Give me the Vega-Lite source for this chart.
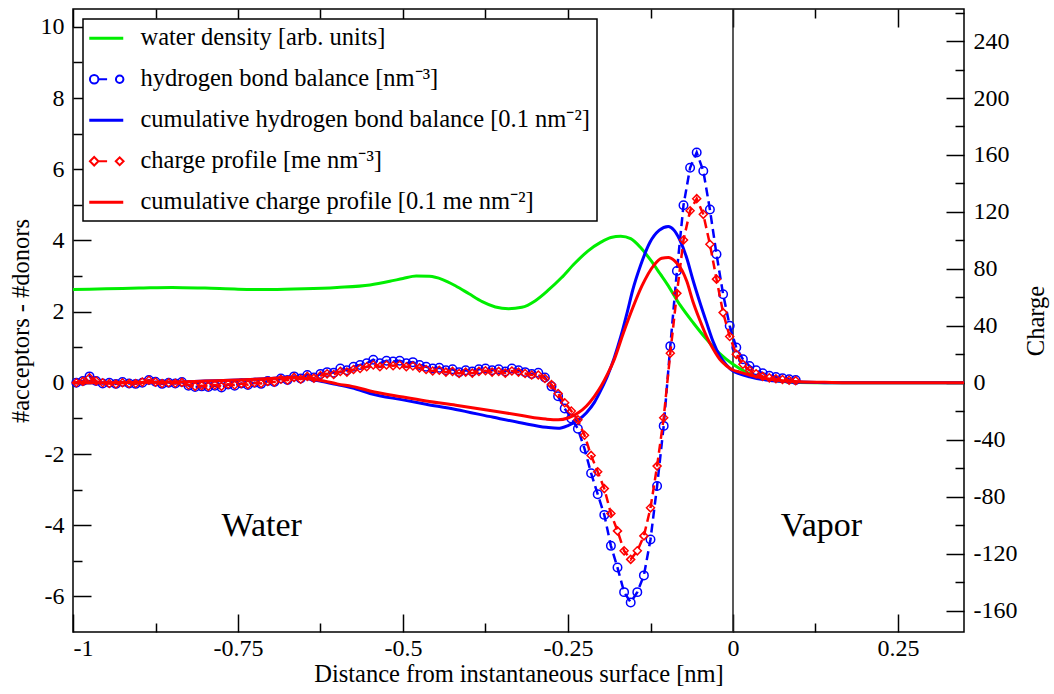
{
  "$schema": "https://vega.github.io/schema/vega-lite/v6.json",
  "width": 891,
  "height": 623,
  "autosize": {"type": "none"},
  "padding": {"left": 73, "top": 9, "right": 90, "bottom": 62},
  "background": "white",
  "config": {
    "view": {"stroke": "black", "strokeWidth": 1.5},
    "axis": {
      "labelFont": "Liberation Serif", "titleFont": "Liberation Serif",
      "labelFontSize": 24, "titleFontSize": 24.5, "labelColor": "black", "titleColor": "black",
      "titleFontWeight": "normal", "tickColor": "black", "tickWidth": 1.5, "domain": false, "grid": false
    }
  },
  "datasets": {
    "density": [
      {"x": -1, "y": 2.62}, {"x": -0.95, "y": 2.64}, {"x": -0.9, "y": 2.66}, {"x": -0.85, "y": 2.68},
      {"x": -0.8, "y": 2.66}, {"x": -0.75, "y": 2.63}, {"x": -0.7, "y": 2.62}, {"x": -0.65, "y": 2.64},
      {"x": -0.6, "y": 2.68}, {"x": -0.55, "y": 2.75}, {"x": -0.52, "y": 2.85}, {"x": -0.5, "y": 2.93},
      {"x": -0.48, "y": 3.0}, {"x": -0.46, "y": 2.99}, {"x": -0.44, "y": 2.9}, {"x": -0.42, "y": 2.72},
      {"x": -0.4, "y": 2.5}, {"x": -0.38, "y": 2.28}, {"x": -0.36, "y": 2.13}, {"x": -0.34, "y": 2.08},
      {"x": -0.32, "y": 2.12}, {"x": -0.3, "y": 2.3}, {"x": -0.28, "y": 2.6}, {"x": -0.26, "y": 2.95},
      {"x": -0.24, "y": 3.35}, {"x": -0.22, "y": 3.7}, {"x": -0.2, "y": 3.95}, {"x": -0.185, "y": 4.08},
      {"x": -0.17, "y": 4.12}, {"x": -0.155, "y": 4.05}, {"x": -0.14, "y": 3.8}, {"x": -0.125, "y": 3.45},
      {"x": -0.11, "y": 3.05}, {"x": -0.1, "y": 2.78}, {"x": -0.08, "y": 2.18}, {"x": -0.06, "y": 1.68},
      {"x": -0.04, "y": 1.22}, {"x": -0.02, "y": 0.82}, {"x": 0, "y": 0.52}, {"x": 0.02, "y": 0.3},
      {"x": 0.04, "y": 0.15}, {"x": 0.06, "y": 0.07}, {"x": 0.08, "y": 0.03}, {"x": 0.1, "y": 0.01},
      {"x": 0.15, "y": 0}, {"x": 0.35, "y": 0}
    ],
    "hb": [
      {"x": -0.995, "y": 0.0}, {"x": -0.985, "y": 0.05}, {"x": -0.975, "y": 0.18}, {"x": -0.965, "y": 0.05},
      {"x": -0.955, "y": -0.02}, {"x": -0.945, "y": 0.0}, {"x": -0.935, "y": -0.03}, {"x": -0.925, "y": 0.02},
      {"x": -0.915, "y": -0.02}, {"x": -0.905, "y": -0.03}, {"x": -0.895, "y": 0.0}, {"x": -0.885, "y": 0.08},
      {"x": -0.875, "y": 0.03}, {"x": -0.865, "y": -0.03}, {"x": -0.855, "y": 0.0}, {"x": -0.845, "y": -0.02},
      {"x": -0.835, "y": 0.02}, {"x": -0.825, "y": -0.08}, {"x": -0.815, "y": -0.12}, {"x": -0.805, "y": -0.1},
      {"x": -0.795, "y": -0.12}, {"x": -0.785, "y": -0.08}, {"x": -0.775, "y": -0.13}, {"x": -0.765, "y": -0.05},
      {"x": -0.755, "y": -0.08}, {"x": -0.745, "y": -0.02}, {"x": -0.735, "y": -0.06}, {"x": -0.725, "y": 0.0},
      {"x": -0.715, "y": -0.03}, {"x": -0.705, "y": 0.05}, {"x": -0.695, "y": 0.02}, {"x": -0.685, "y": 0.12},
      {"x": -0.675, "y": 0.08}, {"x": -0.665, "y": 0.18}, {"x": -0.655, "y": 0.12}, {"x": -0.645, "y": 0.22},
      {"x": -0.635, "y": 0.15}, {"x": -0.625, "y": 0.25}, {"x": -0.615, "y": 0.3}, {"x": -0.605, "y": 0.28},
      {"x": -0.595, "y": 0.4}, {"x": -0.585, "y": 0.35}, {"x": -0.575, "y": 0.45}, {"x": -0.565, "y": 0.5},
      {"x": -0.555, "y": 0.55}, {"x": -0.545, "y": 0.65}, {"x": -0.535, "y": 0.55}, {"x": -0.525, "y": 0.62},
      {"x": -0.515, "y": 0.6}, {"x": -0.505, "y": 0.62}, {"x": -0.495, "y": 0.55}, {"x": -0.485, "y": 0.58},
      {"x": -0.475, "y": 0.5}, {"x": -0.465, "y": 0.45}, {"x": -0.455, "y": 0.4}, {"x": -0.445, "y": 0.42},
      {"x": -0.435, "y": 0.35}, {"x": -0.425, "y": 0.38}, {"x": -0.415, "y": 0.3}, {"x": -0.405, "y": 0.35},
      {"x": -0.395, "y": 0.32}, {"x": -0.385, "y": 0.38}, {"x": -0.375, "y": 0.4}, {"x": -0.365, "y": 0.35},
      {"x": -0.355, "y": 0.38}, {"x": -0.345, "y": 0.32}, {"x": -0.335, "y": 0.4}, {"x": -0.325, "y": 0.35},
      {"x": -0.315, "y": 0.3}, {"x": -0.305, "y": 0.25}, {"x": -0.295, "y": 0.28}, {"x": -0.285, "y": 0.15},
      {"x": -0.275, "y": -0.1}, {"x": -0.265, "y": -0.38}, {"x": -0.255, "y": -0.72}, {"x": -0.245, "y": -1.0},
      {"x": -0.235, "y": -1.29}, {"x": -0.225, "y": -1.85}, {"x": -0.215, "y": -2.54}, {"x": -0.205, "y": -3.13},
      {"x": -0.195, "y": -3.71}, {"x": -0.185, "y": -4.58}, {"x": -0.175, "y": -5.19}, {"x": -0.165, "y": -5.88},
      {"x": -0.155, "y": -6.17}, {"x": -0.145, "y": -5.88}, {"x": -0.135, "y": -5.41}, {"x": -0.125, "y": -4.4},
      {"x": -0.115, "y": -2.9}, {"x": -0.105, "y": -1.21}, {"x": -0.095, "y": 1.03}, {"x": -0.085, "y": 3.14},
      {"x": -0.075, "y": 4.99}, {"x": -0.065, "y": 6.04}, {"x": -0.055, "y": 6.47}, {"x": -0.045, "y": 5.95},
      {"x": -0.035, "y": 4.87}, {"x": -0.025, "y": 3.61}, {"x": -0.015, "y": 2.49}, {"x": -0.005, "y": 1.6},
      {"x": 0.005, "y": 0.99}, {"x": 0.015, "y": 0.66}, {"x": 0.025, "y": 0.47}, {"x": 0.035, "y": 0.35},
      {"x": 0.045, "y": 0.27}, {"x": 0.055, "y": 0.2}, {"x": 0.065, "y": 0.16}, {"x": 0.075, "y": 0.13},
      {"x": 0.085, "y": 0.1}, {"x": 0.095, "y": 0.08}
    ],
    "hbcum": [
      {"x": -1, "y": 0}, {"x": -0.95, "y": 0.0}, {"x": -0.9, "y": 0.01}, {"x": -0.85, "y": 0.02},
      {"x": -0.8, "y": 0.05}, {"x": -0.75, "y": 0.08}, {"x": -0.7, "y": 0.12}, {"x": -0.67, "y": 0.15},
      {"x": -0.65, "y": 0.13}, {"x": -0.62, "y": 0.03}, {"x": -0.6, "y": -0.05}, {"x": -0.57, "y": -0.18},
      {"x": -0.55, "y": -0.3}, {"x": -0.5, "y": -0.48}, {"x": -0.465, "y": -0.6}, {"x": -0.42, "y": -0.75},
      {"x": -0.363, "y": -0.97}, {"x": -0.32, "y": -1.13}, {"x": -0.283, "y": -1.25}, {"x": -0.265, "y": -1.28},
      {"x": -0.25, "y": -1.2}, {"x": -0.235, "y": -1.05}, {"x": -0.222, "y": -0.84}, {"x": -0.21, "y": -0.55},
      {"x": -0.2, "y": -0.2}, {"x": -0.19, "y": 0.2}, {"x": -0.18, "y": 0.7}, {"x": -0.17, "y": 1.3},
      {"x": -0.16, "y": 2.0}, {"x": -0.152, "y": 2.6}, {"x": -0.14, "y": 3.3}, {"x": -0.126, "y": 3.94},
      {"x": -0.112, "y": 4.28}, {"x": -0.098, "y": 4.39}, {"x": -0.09, "y": 4.3}, {"x": -0.081, "y": 4.03},
      {"x": -0.07, "y": 3.5}, {"x": -0.061, "y": 2.91}, {"x": -0.05, "y": 2.25}, {"x": -0.04, "y": 1.69},
      {"x": -0.03, "y": 1.15}, {"x": -0.02, "y": 0.75}, {"x": -0.01, "y": 0.5}, {"x": 0, "y": 0.33},
      {"x": 0.01, "y": 0.25}, {"x": 0.025, "y": 0.17}, {"x": 0.05, "y": 0.08}, {"x": 0.075, "y": 0.04},
      {"x": 0.1, "y": 0.02}, {"x": 0.15, "y": 0}, {"x": 0.35, "y": 0}
    ],
    "charge": [
      {"x": -0.995, "y": 0}, {"x": -0.985, "y": 1.0}, {"x": -0.975, "y": 3.5}, {"x": -0.965, "y": 1.3},
      {"x": -0.955, "y": 0}, {"x": -0.945, "y": -0.5}, {"x": -0.935, "y": -0.8}, {"x": -0.925, "y": 0},
      {"x": -0.915, "y": -0.5}, {"x": -0.905, "y": -0.5}, {"x": -0.895, "y": 0.5}, {"x": -0.885, "y": 1.8},
      {"x": -0.875, "y": 0.5}, {"x": -0.865, "y": -0.5}, {"x": -0.855, "y": 0}, {"x": -0.845, "y": -0.3},
      {"x": -0.835, "y": 0.3}, {"x": -0.825, "y": -1.5}, {"x": -0.815, "y": -2.5}, {"x": -0.805, "y": -2.0},
      {"x": -0.795, "y": -2.5}, {"x": -0.785, "y": -1.5}, {"x": -0.775, "y": -2.5}, {"x": -0.765, "y": -1.0},
      {"x": -0.755, "y": -1.5}, {"x": -0.745, "y": -0.5}, {"x": -0.735, "y": -1.3}, {"x": -0.725, "y": 0},
      {"x": -0.715, "y": -0.5}, {"x": -0.705, "y": 1.0}, {"x": -0.695, "y": 0.5}, {"x": -0.685, "y": 2.5},
      {"x": -0.675, "y": 1.8}, {"x": -0.665, "y": 3.8}, {"x": -0.655, "y": 2.5}, {"x": -0.645, "y": 4.5},
      {"x": -0.635, "y": 3.3}, {"x": -0.625, "y": 5.0}, {"x": -0.615, "y": 6.3}, {"x": -0.605, "y": 5.8},
      {"x": -0.595, "y": 8.0}, {"x": -0.585, "y": 7.5}, {"x": -0.575, "y": 9.3}, {"x": -0.565, "y": 10.0},
      {"x": -0.555, "y": 11.3}, {"x": -0.545, "y": 12.5}, {"x": -0.535, "y": 11.3}, {"x": -0.525, "y": 12.5},
      {"x": -0.515, "y": 12.0}, {"x": -0.505, "y": 12.5}, {"x": -0.495, "y": 11.3}, {"x": -0.485, "y": 11.8},
      {"x": -0.475, "y": 10.5}, {"x": -0.465, "y": 9.3}, {"x": -0.455, "y": 8.3}, {"x": -0.445, "y": 8.8},
      {"x": -0.435, "y": 7.5}, {"x": -0.425, "y": 8.0}, {"x": -0.415, "y": 6.5}, {"x": -0.405, "y": 7.5},
      {"x": -0.395, "y": 6.8}, {"x": -0.385, "y": 8.0}, {"x": -0.375, "y": 8.5}, {"x": -0.365, "y": 7.5},
      {"x": -0.355, "y": 8.0}, {"x": -0.345, "y": 6.8}, {"x": -0.335, "y": 8.3}, {"x": -0.325, "y": 7.5},
      {"x": -0.315, "y": 6.5}, {"x": -0.305, "y": 5.5}, {"x": -0.295, "y": 5.5}, {"x": -0.285, "y": 3.0},
      {"x": -0.275, "y": -1.3}, {"x": -0.265, "y": -7.5}, {"x": -0.255, "y": -14.0}, {"x": -0.245, "y": -19.8},
      {"x": -0.235, "y": -26.0}, {"x": -0.225, "y": -36.8}, {"x": -0.215, "y": -51.0}, {"x": -0.205, "y": -62.5},
      {"x": -0.195, "y": -74.3}, {"x": -0.185, "y": -91.8}, {"x": -0.175, "y": -104.0}, {"x": -0.165, "y": -118.0},
      {"x": -0.155, "y": -124.0}, {"x": -0.145, "y": -118.0}, {"x": -0.135, "y": -107.5}, {"x": -0.125, "y": -87.8},
      {"x": -0.115, "y": -58.5}, {"x": -0.105, "y": -24.5}, {"x": -0.095, "y": 20.8}, {"x": -0.085, "y": 62.8},
      {"x": -0.075, "y": 100.3}, {"x": -0.065, "y": 120.8}, {"x": -0.055, "y": 129.3}, {"x": -0.045, "y": 118.3},
      {"x": -0.035, "y": 97.3}, {"x": -0.025, "y": 72.8}, {"x": -0.015, "y": 49.3}, {"x": -0.005, "y": 32.5},
      {"x": 0.005, "y": 20.0}, {"x": 0.015, "y": 13.0}, {"x": 0.025, "y": 8.8}, {"x": 0.035, "y": 6.3},
      {"x": 0.045, "y": 4.5}, {"x": 0.055, "y": 3.5}, {"x": 0.065, "y": 2.8}, {"x": 0.075, "y": 2.3},
      {"x": 0.085, "y": 1.8}, {"x": 0.095, "y": 1.5}
    ],
    "chargecum": [
      {"x": -1, "y": 0}, {"x": -0.95, "y": 0}, {"x": -0.9, "y": 0.25}, {"x": -0.85, "y": 0.5},
      {"x": -0.8, "y": 1.25}, {"x": -0.75, "y": 2.0}, {"x": -0.7, "y": 3.0}, {"x": -0.67, "y": 3.75},
      {"x": -0.65, "y": 3.25}, {"x": -0.62, "y": 1.25}, {"x": -0.6, "y": -0.75}, {"x": -0.57, "y": -3.25},
      {"x": -0.55, "y": -5.75}, {"x": -0.5, "y": -10.0}, {"x": -0.465, "y": -12.75}, {"x": -0.42, "y": -15.75},
      {"x": -0.363, "y": -19.75}, {"x": -0.32, "y": -23.0}, {"x": -0.283, "y": -25.5}, {"x": -0.265, "y": -26.0},
      {"x": -0.25, "y": -24.75}, {"x": -0.235, "y": -21.25}, {"x": -0.222, "y": -16.25}, {"x": -0.21, "y": -9.5},
      {"x": -0.2, "y": -2.5}, {"x": -0.19, "y": 6.25}, {"x": -0.18, "y": 16.25}, {"x": -0.167, "y": 33.75},
      {"x": -0.152, "y": 52.5}, {"x": -0.138, "y": 68.0}, {"x": -0.12, "y": 82.5}, {"x": -0.108, "y": 87.5},
      {"x": -0.098, "y": 88.0}, {"x": -0.088, "y": 85.5}, {"x": -0.077, "y": 78.75}, {"x": -0.07, "y": 71.25},
      {"x": -0.061, "y": 57.5}, {"x": -0.05, "y": 43.75}, {"x": -0.04, "y": 32.5}, {"x": -0.03, "y": 23.75},
      {"x": -0.02, "y": 16.5}, {"x": -0.01, "y": 12.0}, {"x": 0, "y": 9.0}, {"x": 0.01, "y": 7.5},
      {"x": 0.025, "y": 5.5}, {"x": 0.05, "y": 3.0}, {"x": 0.075, "y": 1.5}, {"x": 0.1, "y": 0.75},
      {"x": 0.15, "y": 0.25}, {"x": 0.2, "y": 0}, {"x": 0.35, "y": 0}
    ],
    "labels": [
      {"x": -0.714, "y": -4.31, "text": "Water"},
      {"x": 0.134, "y": -4.31, "text": "Vapor"}
    ]
  },
  "layer": [
    {
      "data": {"values": [{"x": 0}]},
      "mark": {"type": "rule", "color": "#222222", "strokeWidth": 1.5},
      "encoding": {
        "x": {"field": "x", "type": "quantitative", "scale": {"domain": [-1, 0.35], "nice": false, "zero": false}, "axis": null}
      }
    },
    {
      "data": {"name": "density"},
      "mark": {"type": "line", "strokeWidth": 3, "interpolate": "monotone"},
      "encoding": {
        "x": {"field": "x", "type": "quantitative", "scale": {"domain": [-1, 0.35], "nice": false, "zero": false},
          "axis": {"orient": "bottom", "values": [-1, -0.75, -0.5, -0.25, 0, 0.25], "tickSize": -18, "labelPadding": 22,
            "labelExpr": "toString(datum.value)", "title": "Distance from instantaneous surface [nm]", "titlePadding": 2}},
        "y": {"field": "y", "type": "quantitative", "scale": {"domain": [-7, 10.5], "nice": false, "zero": false},
          "axis": {"orient": "left", "values": [-6, -4, -2, 0, 2, 4, 6, 8, 10], "tickSize": -18, "labelPadding": 27,
            "labelExpr": "toString(datum.value)", "title": "#acceptors - #donors", "titlePadding": 7}},
        "color": {
          "datum": "water density [arb. units]",
          "scale": {
            "domain": ["water density [arb. units]", "hydrogen bond balance [nm⁻³]", "cumulative hydrogen bond balance [0.1 nm⁻²]", "charge profile [me nm⁻³]", "cumulative charge profile [0.1 me nm⁻²]"],
            "range": ["#00ee00", "#0000ff", "#0000ff", "#ff0000", "#ff0000"]
          },
          "legend": {
            "title": null, "orient": "none", "legendX": 10, "legendY": 10,
            "strokeColor": "black", "fillColor": "white", "padding": 7, "cornerRadius": 0,
            "labelFont": "Liberation Serif", "labelFontSize": 24.5, "labelColor": "black", "labelLimit": 0,
            "symbolSize": 1156, "symbolOffset": 4, "labelOffset": 22, "rowPadding": 16,
            "encode": {
              "legend": {"update": {"strokeWidth": {"value": 1.5}}},
              "symbols": {"update": {
                "shape": {"signal": "datum.value === 'hydrogen bond balance [nm⁻³]' ? 'M-0.96,0A0.25,0.25 0 1,1 -0.46,0A0.25,0.25 0 1,1 -0.96,0M-0.46,0H0.05M0.57,0A0.22,0.22 0 1,1 1.01,0A0.22,0.22 0 1,1 0.57,0' : (datum.value === 'charge profile [me nm⁻³]' ? 'M-0.96,0L-0.71,-0.25L-0.46,0L-0.71,0.25ZM-0.46,0H0.05M0.56,0L0.79,-0.23L1.02,0L0.79,0.23Z' : 'M-1,0H1')"},
                "strokeWidth": {"signal": "(datum.value === 'hydrogen bond balance [nm⁻³]' || datum.value === 'charge profile [me nm⁻³]') ? 2 : 3"},
                "stroke": {"scale": "color", "field": "value"},
                "fill": {"value": "transparent"},
                "opacity": {"value": 1}
              }}
            }
          }
        }
      }
    },
    {
      "data": {"name": "hb"},
      "mark": {"type": "line", "strokeWidth": 2.5, "strokeDash": [9, 5],
        "point": {"shape": "circle", "filled": false, "size": 72, "strokeWidth": 1.5}},
      "encoding": {
        "x": {"field": "x", "type": "quantitative", "scale": {"domain": [-1, 0.35], "nice": false, "zero": false},
          "axis": {"orient": "top", "values": [-1, -0.75, -0.5, -0.25, 0, 0.25], "tickSize": -18, "labels": false, "title": null}},
        "y": {"field": "y", "type": "quantitative", "scale": {"domain": [-7, 10.5], "nice": false, "zero": false}, "axis": null},
        "color": {"datum": "hydrogen bond balance [nm⁻³]"}
      }
    },
    {
      "data": {"name": "hbcum"},
      "mark": {"type": "line", "strokeWidth": 3, "interpolate": "monotone"},
      "encoding": {
        "x": {"field": "x", "type": "quantitative", "scale": {"domain": [-1, 0.35], "nice": false, "zero": false},
          "axis": {"orient": "bottom", "values": [-0.875, -0.625, -0.375, -0.125, 0.125], "tickSize": -9, "labels": false, "title": null}},
        "y": {"field": "y", "type": "quantitative", "scale": {"domain": [-7, 10.5], "nice": false, "zero": false},
          "axis": {"orient": "left", "values": [-5, -3, -1, 1, 3, 5, 7, 9], "tickSize": -9, "labels": false, "title": null}},
        "color": {"datum": "cumulative hydrogen bond balance [0.1 nm⁻²]"}
      }
    },
    {
      "data": {"name": "charge"},
      "mark": {"type": "line", "strokeWidth": 2.5, "strokeDash": [9, 5],
        "point": {"shape": "diamond", "filled": false, "size": 64, "strokeWidth": 1.5}},
      "encoding": {
        "x": {"field": "x", "type": "quantitative", "scale": {"domain": [-1, 0.35], "nice": false, "zero": false},
          "axis": {"orient": "top", "values": [-0.875, -0.625, -0.375, -0.125, 0.125], "tickSize": -9, "labels": false, "title": null}},
        "y": {"field": "y", "type": "quantitative", "scale": {"domain": [-175, 262.5], "nice": false, "zero": false},
          "axis": {"orient": "right", "values": [-160, -120, -80, -40, 0, 40, 80, 120, 160, 200, 240], "tickSize": -18, "labelPadding": 27,
            "labelExpr": "toString(datum.value)", "title": "Charge", "titleAngle": -90, "titlePadding": 32}},
        "color": {"datum": "charge profile [me nm⁻³]"}
      }
    },
    {
      "data": {"name": "chargecum"},
      "mark": {"type": "line", "strokeWidth": 3, "interpolate": "monotone"},
      "encoding": {
        "x": {"field": "x", "type": "quantitative", "scale": {"domain": [-1, 0.35], "nice": false, "zero": false}, "axis": null},
        "y": {"field": "y", "type": "quantitative", "scale": {"domain": [-175, 262.5], "nice": false, "zero": false},
          "axis": {"orient": "right", "values": [-140, -100, -60, -20, 20, 60, 100, 140, 180, 220, 260], "tickSize": -9, "labels": false, "title": null}},
        "color": {"datum": "cumulative charge profile [0.1 me nm⁻²]"}
      }
    },
    {
      "data": {"name": "labels"},
      "mark": {"type": "text", "font": "Liberation Serif", "fontSize": 34, "color": "black", "align": "center", "baseline": "alphabetic"},
      "encoding": {
        "x": {"field": "x", "type": "quantitative", "scale": {"domain": [-1, 0.35], "nice": false, "zero": false}, "axis": null},
        "y": {"field": "y", "type": "quantitative", "scale": {"domain": [-7, 10.5], "nice": false, "zero": false}, "axis": null},
        "text": {"field": "text"}
      }
    }
  ],
  "resolve": {"scale": {"x": "independent", "y": "independent"}, "axis": {"x": "independent", "y": "independent"}}
}
